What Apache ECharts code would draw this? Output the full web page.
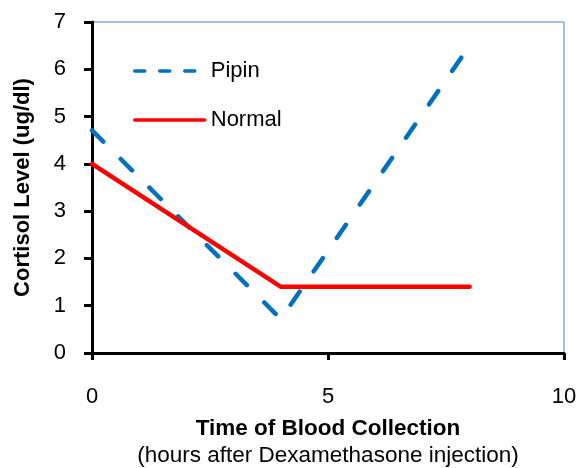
<!DOCTYPE html>
<html><head><meta charset="utf-8">
<script src="https://cdn.jsdelivr.net/npm/echarts@6/dist/echarts.min.js"></script>
<style>html,body{margin:0;padding:0;background:#fff}#c{width:580px;height:468px}</style>
</head><body><div id="c"></div>
<script>
const hours = [0, 4, 8];
const pipin = [4.71, 0.72, 6.5];
const normal = [4.0, 1.4, 1.4];
const xTicks = [0, 5, 10];
const yTicks = [0, 1, 2, 3, 4, 5, 6, 7];

const F = '"Liberation Sans", Arial, sans-serif';
const chart = echarts.init(document.getElementById('c'), null, {renderer: 'canvas'});
chart.setOption({
  animation: false,
  backgroundColor: '#fff',
  textStyle: {fontFamily: F, color: '#000'},
  grid: {left: 92, right: 16, top: 22, bottom: 115, outerBoundsMode: 'none', containLabel: false,
         show: true, borderColor: '#4F81BD', borderWidth: 1, backgroundColor: 'transparent'},
  legend: {
    orient: 'vertical', left: 133, top: 60, padding: 0, itemWidth: 70, itemHeight: 14, itemGap: 27,
    textStyle: {fontFamily: F, fontSize: 22, lineHeight: 22, color: '#000', padding: [0, 0, 0, 1]},
    itemStyle: {color: 'rgba(0,0,0,0)', opacity: 0, borderWidth: 0},
    lineStyle: {width: 3},
    data: [
      {name: 'Pipin', lineStyle: {type: [10, 15], cap: 'round', width: 3.5}},
      {name: 'Normal', lineStyle: {width: 3.5}}
    ]
  },
  xAxis: {
    type: 'value', min: xTicks[0], max: xTicks[xTicks.length - 1], interval: 5,
    axisLine: {lineStyle: {color: '#000', width: 3}},
    axisTick: {show: true, length: 7, lineStyle: {color: '#000', width: 3}},
    axisLabel: {fontFamily: F, fontSize: 22, color: '#000', margin: 33},
    splitLine: {show: false},
    name: '{a|Time of Blood Collection}\n{b|(hours after Dexamethasone injection)}',
    nameLocation: 'middle', nameGap: 62,
    nameTextStyle: {
      rich: {
        a: {fontFamily: F, fontSize: 22.5, fontWeight: 'bold', color: '#000', lineHeight: 27},
        b: {fontFamily: F, fontSize: 22.5, color: '#000', lineHeight: 27}
      }
    }
  },
  yAxis: {
    type: 'value', min: yTicks[0], max: yTicks[yTicks.length - 1], interval: 1,
    axisLine: {show: true, lineStyle: {color: '#000', width: 3}},
    axisTick: {show: true, length: 8, lineStyle: {color: '#000', width: 3}},
    axisLabel: {fontFamily: F, fontSize: 22, color: '#000', margin: 26},
    splitLine: {show: false},
    name: 'Cortisol Level (ug/dl)', nameLocation: 'middle', nameGap: 58,
    nameTextStyle: {fontFamily: F, fontSize: 22, fontWeight: 'bold', color: '#000'}
  },
  series: [
    {
      name: 'Pipin', type: 'line', symbol: 'none', z: 3,
      data: hours.map((h, i) => [h, pipin[i]]),
      lineStyle: {color: '#0070C0', width: 4.5, type: [16, 24.6], cap: 'round'},
      itemStyle: {color: '#0070C0'}
    },
    {
      name: 'Normal', type: 'line', symbol: 'none', z: 4,
      data: hours.map((h, i) => [h, normal[i]]),
      lineStyle: {color: '#FF0000', width: 4.5, cap: 'round', join: 'miter'},
      itemStyle: {color: '#FF0000'}
    }
  ]
});
</script></body></html>
